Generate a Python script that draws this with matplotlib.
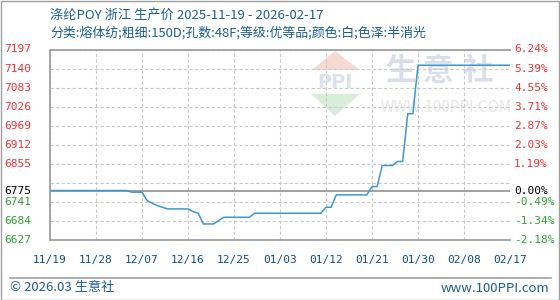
import numpy as np
import pandas as pd
import matplotlib
matplotlib.use('Agg')
from matplotlib import pyplot as plt
from matplotlib import transforms
from matplotlib.patches import Polygon, Rectangle
from matplotlib.lines import Line2D

plt.rcParams['font.family'] = ['Noto Sans CJK SC', 'DejaVu Sans']

title = '涤纶POY 浙江 生产价 2025-11-19 - 2026-02-17'
subtitle = '分类:熔体纺;粗细:150D;孔数:48F;等级:优等品;颜色:白;色泽:半消光'

dates = pd.date_range('2025-11-19', '2026-02-17', freq='D')
prices = [
    6775, 6775, 6775, 6775, 6775, 6775, 6775, 6775, 6775, 6775,
    6775, 6775, 6775, 6775, 6775, 6775, 6770, 6770, 6770, 6745,
    6737, 6730, 6725, 6720, 6720, 6720, 6720, 6720, 6712, 6707,
    6675, 6675, 6675, 6685, 6695, 6695, 6695, 6695, 6695, 6695,
    6707, 6707, 6707, 6707, 6707, 6707, 6707, 6707, 6707, 6707,
    6707, 6707, 6707, 6707, 6725, 6725, 6762, 6762, 6762, 6762,
    6762, 6762, 6762, 6787, 6787, 6850, 6850, 6850, 6862, 6862,
    7005, 7005, 7150, 7150, 7150, 7150, 7150, 7150, 7150, 7150,
    7150, 7150, 7150, 7150, 7150, 7150, 7150, 7150, 7150, 7150,
    7150,
]
base = 6775

grid_vals = [6627, 6684, 6741, 6798, 6855, 6912, 6969, 7026, 7083, 7140, 7197]
left_vals = [6627, 6684, 6741, 6775, 6855, 6912, 6969, 7026, 7083, 7140, 7197]
right_labels = ['-2.18%', '-1.34%', '-0.49%', '0.00%', '1.19%', '2.03%',
                '2.87%', '3.71%', '4.55%', '5.39%', '6.24%']
xtick_labels = ['11/19', '11/28', '12/07', '12/16', '12/25', '01/03',
                '01/12', '01/21', '01/30', '02/08', '02/17']

W, H = 560, 300
fig = plt.figure(figsize=(W / 100, H / 100), dpi=100)
ax = fig.add_axes([50 / W, 1 - 240 / H, 460 / W, 190.5 / H])


def fx(px):
    return px / W


def fy(py):
    return 1 - py / H


# watermark (behind grid)
red_tri = Polygon([(fx(312), fy(70)), (fx(360), fy(70)), (fx(335), fy(51))],
                  closed=True, transform=fig.transFigure, facecolor='#f7d9d4',
                  edgecolor='none', zorder=0.1)
green_tri = Polygon([(fx(311), fy(94)), (fx(360), fy(94)), (fx(335), fy(116))],
                    closed=True, transform=fig.transFigure, facecolor='#d9eed9',
                    edgecolor='none', zorder=0.1)
ax.add_patch(red_tri)
ax.add_patch(green_tri)
ax.text(fx(335), fy(82), 'PPI', transform=fig.transFigure, ha='center', va='center',
        fontsize=14, fontweight='bold', family='DejaVu Sans', color='#dde2ec', zorder=0.1)
for ch, px in zip('生意社', [400, 438, 478]):
    ax.text(fx(px), fy(71), ch, transform=fig.transFigure, ha='center', va='center',
            fontsize=22, fontweight='bold', color='#d9dfea', zorder=0.1)
ax.text(fx(446), fy(108), 'WWW.100PPI.COM', transform=fig.transFigure, ha='center',
        va='center', fontsize=11, color='#e6e6e6', zorder=0.1)

ax.plot(dates, prices, color='#3d97d3', lw=1.1, zorder=3)
ax.axhline(base, color='#999999', lw=1.3, zorder=2)

ax.set_xlim(dates[0], dates[-1])
ax.set_ylim(grid_vals[0], grid_vals[-1])
xt = dates[::9]
ax.set_xticks(xt)
ax.set_xticklabels(xtick_labels)
ax.set_yticks(grid_vals)
ax.tick_params(axis='y', left=False, labelleft=False)
ax.tick_params(axis='x', length=0, pad=11, labelsize=8, labelcolor='#0f4f80')
for lb in ax.get_xticklabels():
    lb.set_family('DejaVu Sans Mono')
ax.grid(True, color='#c8c8c8', lw=0.8, ls=(0, (3, 2)))
ax.set_axisbelow(True)
for s in ['left', 'top', 'bottom']:
    ax.spines[s].set_color('#a0a0a0')
    ax.spines[s].set_linewidth(1.3)
ax.spines['right'].set_visible(False)

# y labels on both sides
trl = transforms.blended_transform_factory(fig.transFigure, ax.transData)
for v, rl in zip(left_vals, right_labels):
    if v > base:
        c = '#f03030'
    elif v < base:
        c = '#30a030'
    else:
        c = '#000000'
    ax.text(fx(4), v, str(v), transform=trl, ha='left', va='center', fontsize=8,
            family='DejaVu Sans Mono', color=c, clip_on=False)
    ax.text(fx(514), v, rl, transform=trl, ha='left', va='center', fontsize=8,
            family='DejaVu Sans Mono', color=c, clip_on=False)

# header / footer
fig.text(fx(50), fy(15), title, ha='left', va='center', fontsize=9.5, color='#1a5f8e')
fig.text(fx(50), fy(33), subtitle, ha='left', va='center', fontsize=9.3, color='#1a5f8e')
fig.add_artist(Line2D([fx(10), fx(551)], [fy(277.5), fy(277.5)],
                      transform=fig.transFigure, color='#a0a0a0', lw=1.2))
fig.text(fx(10), fy(288), '© 2026.03 生意社', ha='left', va='center', fontsize=9.5,
         color='#1a5f8e')
fig.text(fx(549), fy(288), 'www.100PPI.com', ha='right', va='center', fontsize=9.5,
         color='#1a5f8e')
fig.add_artist(Rectangle((fx(0.5), fy(299.5)), fx(558), 298.5 / H,
                         transform=fig.transFigure, fill=False,
                         edgecolor='#a0a0a0', lw=1.0))

fig.savefig('out.png', dpi=100)
